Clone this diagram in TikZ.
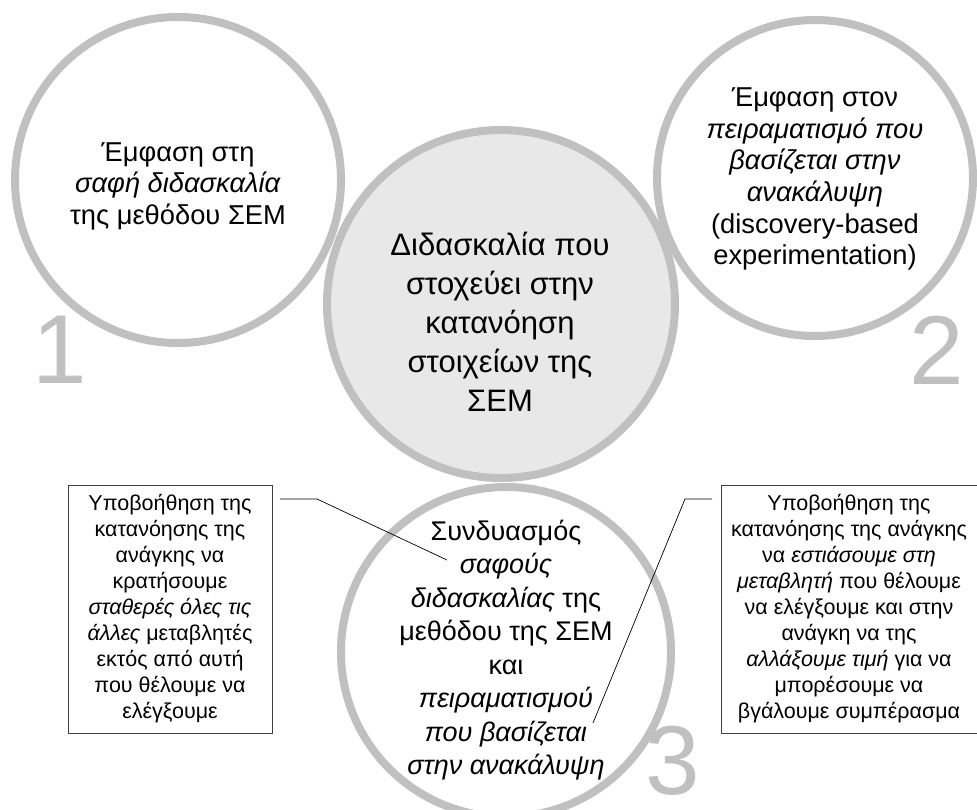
\documentclass[tikz,border=0pt]{standalone}
\usepackage{fontspec}
\setmainfont{Liberation Sans}

\definecolor{ringgray}{HTML}{C0C0C0}
\definecolor{coregray}{HTML}{E8E8E8}

\tikzset{
  ring/.style={circle, draw=ringgray, line width=8pt, inner sep=0pt},
  digit/.style={text=ringgray, font=\fontsize{98}{98}\selectfont, inner sep=0pt},
  callout/.style={draw=black!75, line width=0.8pt, align=center, inner sep=0pt,
    minimum height=248pt, font=\fontsize{21.5}{26}\selectfont},
  lead/.style={line width=0.7pt},
}

\begin{document}
\begin{tikzpicture}[x=1pt, y=-1pt]
  \useasboundingbox (0,0) rectangle (977,809);

  % circles
  \node[ring, minimum size=326pt] (c1) at (178,180) {};
  \node[ring, minimum size=316pt] (c2) at (815,178) {};
  \node[ring, minimum size=330pt] (c3) at (506,652) {};
  \node[ring, fill=coregray, minimum size=348pt] (c0) at (501,304) {};

  % numbers
  \node[digit] (n1) at (60,350) {1};
  \node[digit] (n2) at (937,350) {2};
  \node[digit] (n3) at (673,761) {3};

  % circle texts
  \node[align=center, font=\fontsize{27.3}{31.5}\selectfont] (t1) at (178,186)
    {Έμφαση στη\\ \textit{σαφή διδασκαλία}\\ της μεθόδου ΣΕΜ};
  \node[align=center, font=\fontsize{27.3}{31.7}\selectfont] (t2) at (815,179)
    {Έμφαση στον\\ \textit{πειραματισμό που}\\ \textit{βασίζεται στην}\\ \textit{ανακάλυψη}\\ (discovery-based\\ experimentation)};
  \node[align=center, font=\fontsize{31}{39}\selectfont] (t0) at (500,322)
    {Διδασκαλία που\\ στοχεύει στην\\ κατανόηση\\ στοιχείων της\\ ΣΕΜ};
  \node[align=center, font=\fontsize{27}{33.5}\selectfont] (t3) at (506,650)
    {Συνδυασμός\\ \textit{σαφούς}\\ \textit{διδασκαλίας} της\\ μεθόδου της ΣΕΜ\\ και\\ \textit{πειραματισμού}\\ \textit{που βασίζεται}\\ \textit{στην ανακάλυψη}};

  % callout boxes
  \node[callout, minimum width=204pt] (lbox) at (170,609)
    {Υποβοήθηση της\\ κατανόησης της\\ ανάγκης να\\ κρατήσουμε\\ \textit{σταθερές όλες τις}\\ \textit{άλλες} μεταβλητές\\ εκτός από αυτή\\ που θέλουμε να\\ ελέγξουμε};
  \node[callout, minimum width=256pt] (rbox) at (849,609)
    {Υποβοήθηση της\\ κατανόησης της ανάγκης\\ να \textit{εστιάσουμε στη}\\ \textit{μεταβλητή} που θέλουμε\\ να ελέγξουμε και στην\\ ανάγκη να της\\ \textit{αλλάξουμε τιμή} για να\\ μπορέσουμε να\\ βγάλουμε συμπέρασμα};

  % leaders
  \coordinate (la) at (280,499);
  \coordinate (lb) at (317,499);
  \coordinate (lc) at (447,560);
  \coordinate (ra) at (712,499);
  \coordinate (rb) at (685,499);
  \coordinate (rc) at (593,723);
  \draw[lead] (la) -- (lb) -- (lc);
  \draw[lead] (ra) -- (rb) -- (rc);
\end{tikzpicture}
\end{document}
